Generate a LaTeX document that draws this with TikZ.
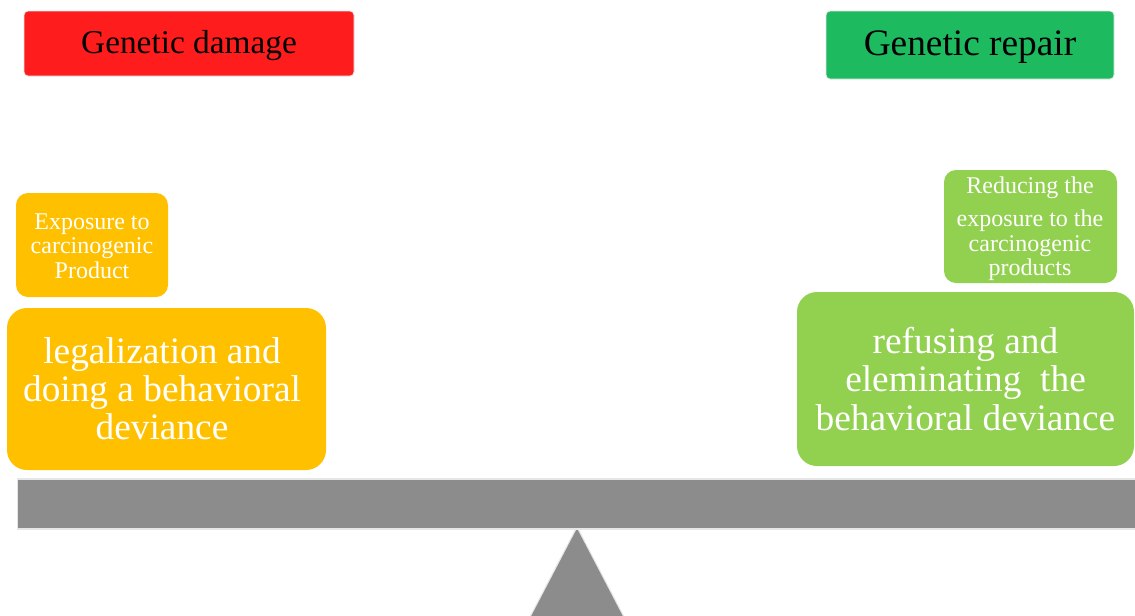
\documentclass[tikz,border=0pt]{standalone}
\usepackage{fontspec}
\setmainfont{Liberation Serif}
\definecolor{dmgred}{HTML}{FF1C1C}
\definecolor{repgreen}{HTML}{1DBA60}
\definecolor{orng}{HTML}{FFC000}
\definecolor{lgreen}{HTML}{92D050}
\definecolor{beamgray}{HTML}{8C8C8C}
\definecolor{edge}{HTML}{E6E6E6}
\tikzset{
  x=0.75pt, y=-0.75pt,
  titlebox/.style={draw=edge, line width=0.6pt, rounded corners=3pt, text=black, inner sep=0pt, align=center},
  smallbox/.style={draw=none, rounded corners=9pt, text=white, inner sep=0pt, align=center,
    font=\fontsize{18}{18.4}\selectfont},
  bigbox/.style={draw=none, rounded corners=15pt, text=white, inner sep=0pt, align=center,
    font=\fontsize{28}{28.6}\selectfont},
}
\begin{document}
\begin{tikzpicture}
\useasboundingbox (0,0) rectangle (1135,615);
\begin{scope}
\clip (0,0) rectangle (1135,615);
% title boxes
\node[titlebox, fill=dmgred, minimum width=247.5pt, minimum height=48.75pt] (damage) at (189,43.5) {};
\node[font=\fontsize{25}{26}\selectfont, inner sep=0pt] (damagetxt) at (189,46) {Genetic damage};
\node[titlebox, fill=repgreen, minimum width=216pt, minimum height=51pt] (repair) at (970,45) {};
\node[font=\fontsize{28}{29}\selectfont, inner sep=0pt] (repairtxt) at (970,47.5) {Genetic repair};
% left boxes
\node[smallbox, fill=orng, minimum width=114pt, minimum height=78pt] (expo) at (92,245) {};
\node[smallbox] (expotxt) at (92,246) {Exposure to\\carcinogenic\\Product};
\node[bigbox, fill=orng, minimum width=239.25pt, minimum height=121.5pt] (legal) at (166.5,389) {};
\node[bigbox] (legaltxt) at (162,389) {legalization and\\doing a behavioral\\deviance};
% right boxes
\node[smallbox, fill=lgreen, minimum width=129.75pt, minimum height=84.75pt] (reduce) at (1030.5,226.5) {};
\node[smallbox] (reducetxt) at (1030,229) {Reducing the\\[6pt]exposure to the\\carcinogenic\\products};
\node[bigbox, fill=lgreen, minimum width=252.75pt, minimum height=130.5pt] (refuse) at (965.5,379)
  {refusing and\\eleminating\ \ the\\behavioral deviance};
% fulcrum
\path[fill=beamgray, draw=edge, line width=0.8pt] (530,617) -- (577,527) -- (624,617) -- cycle;
% beam
\node[draw=edge, line width=1pt, fill=beamgray, minimum width=900pt, minimum height=37.5pt,
  inner sep=0pt, anchor=west] (beam) at (17,504) {};
\coordinate (apex) at (577,529);
\end{scope}
\end{tikzpicture}
\end{document}
